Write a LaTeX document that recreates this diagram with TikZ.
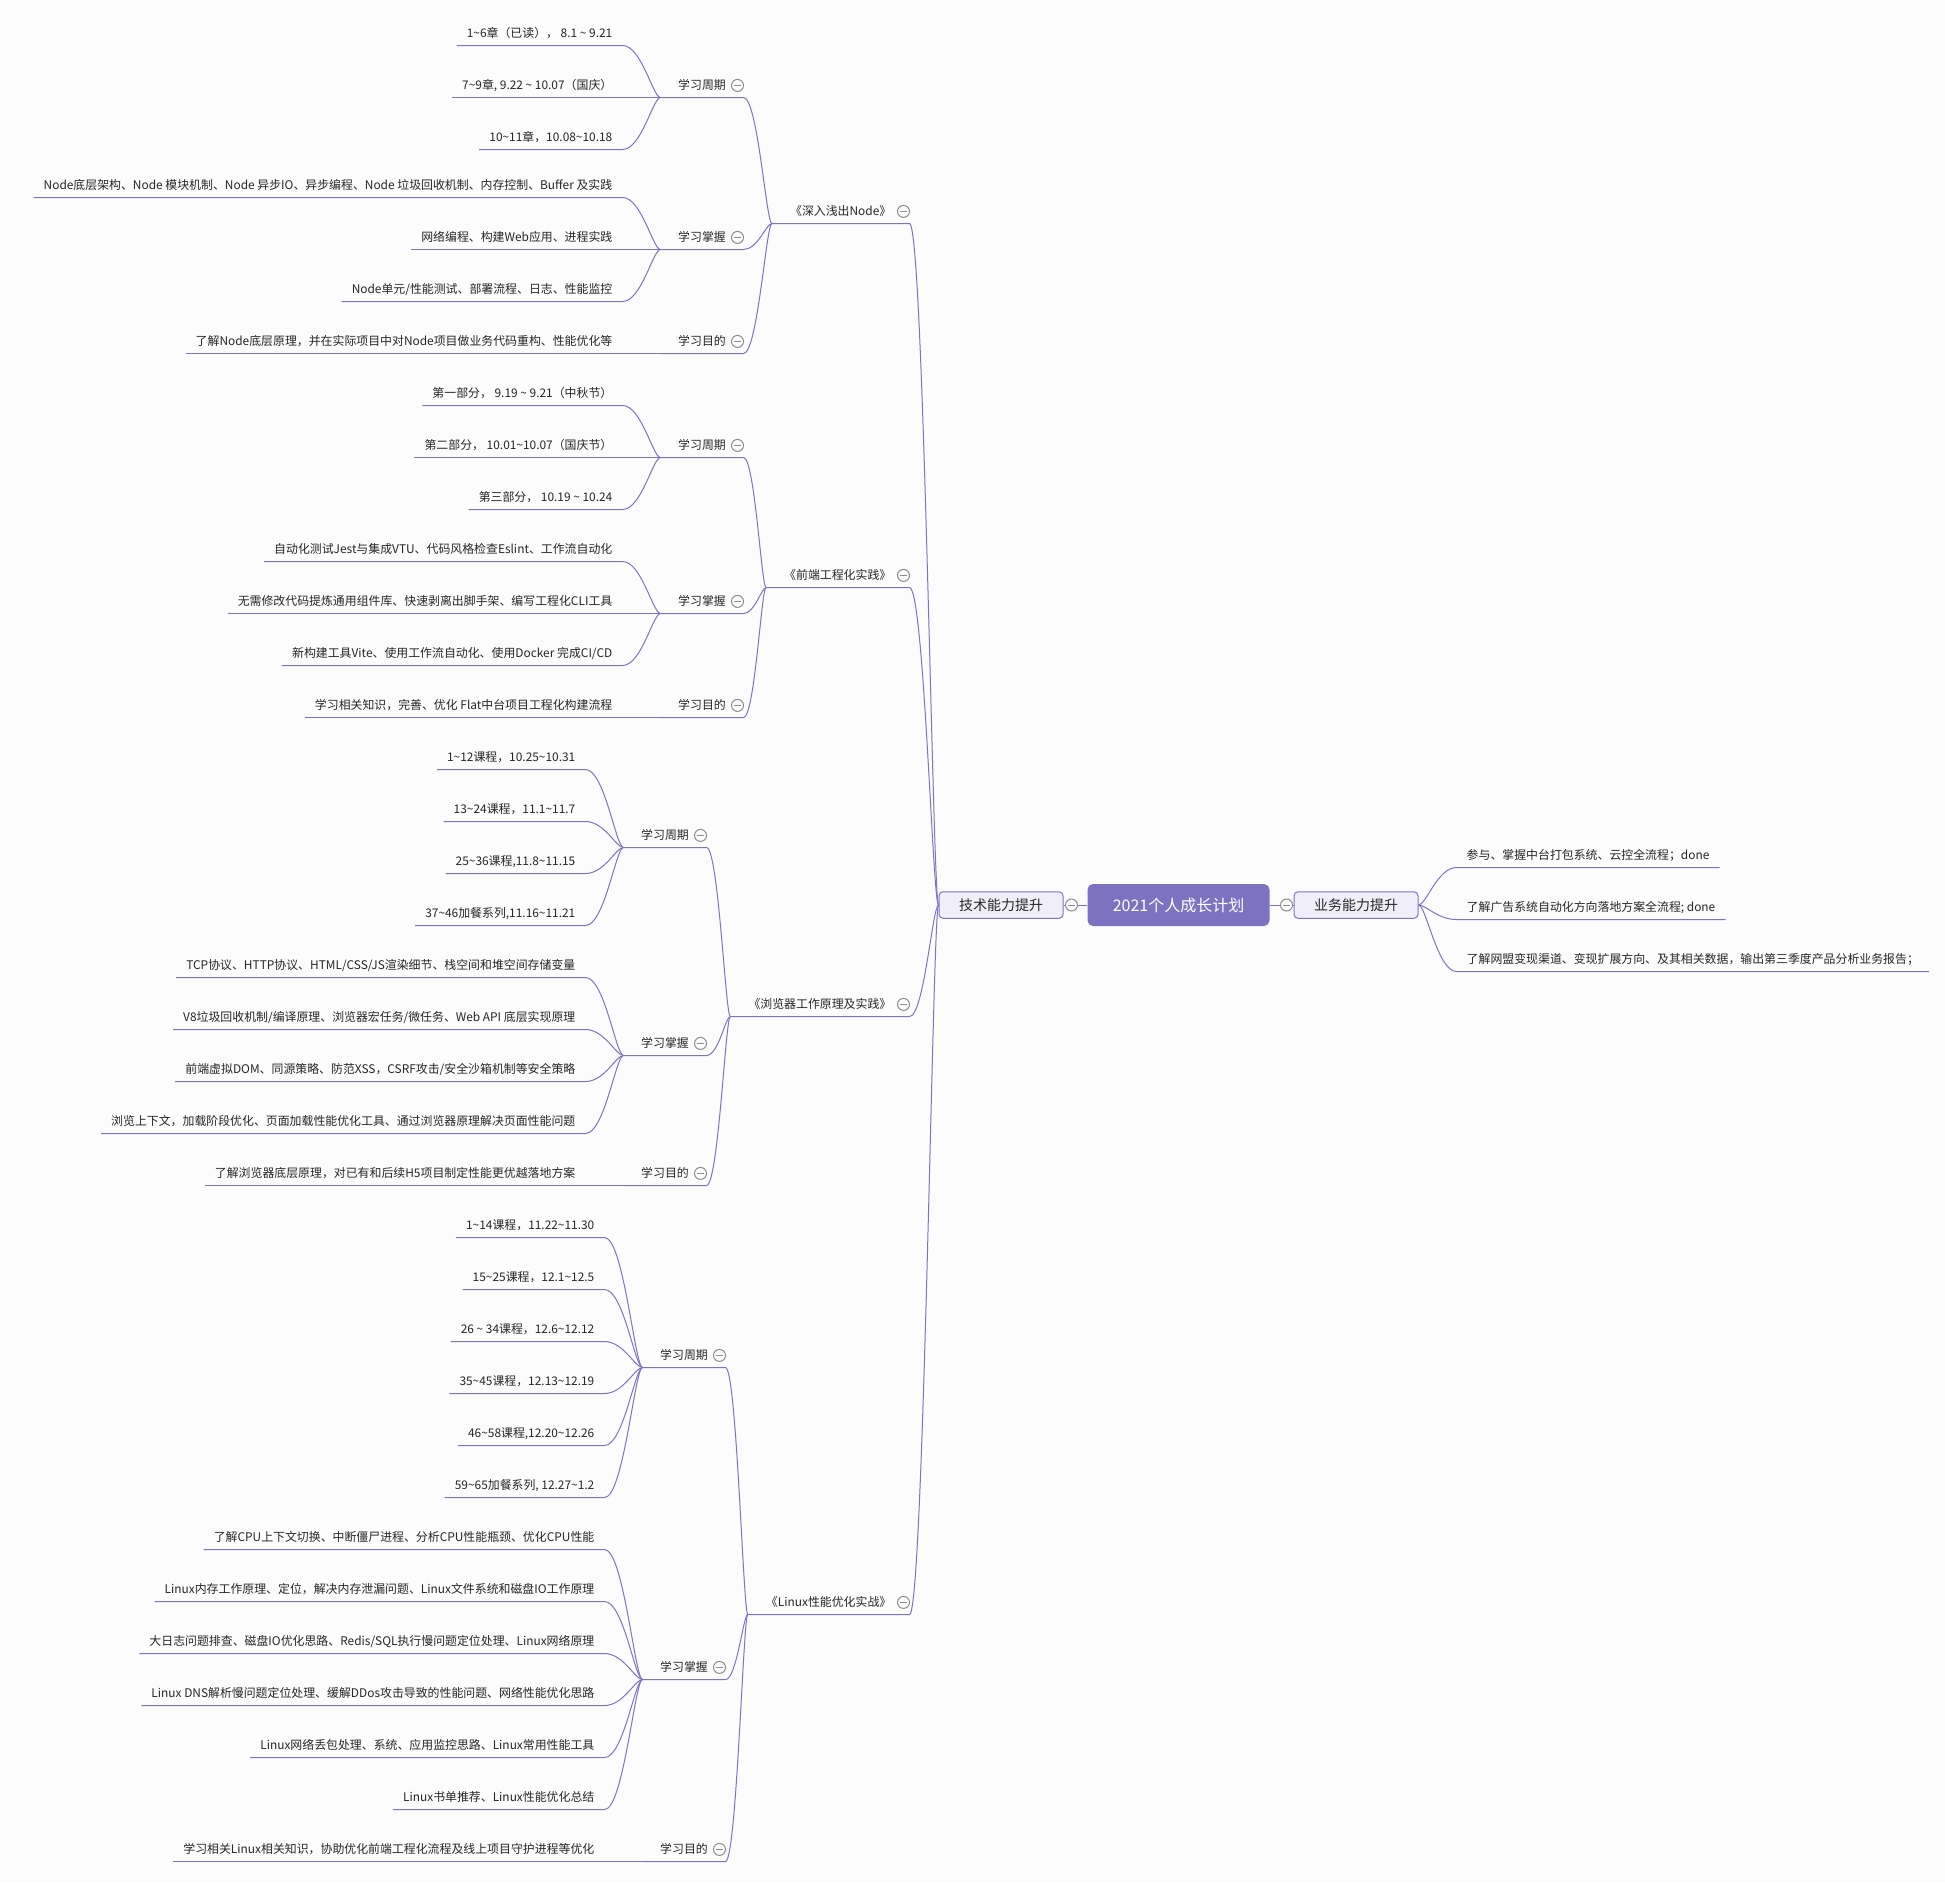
\documentclass[tikz,border=0pt]{standalone}
\usepackage{fontspec}
\setmainfont{Noto Sans CJK SC}
\usetikzlibrary{calc}

\definecolor{twig}{RGB}{124,116,196}
\definecolor{hubfill}{RGB}{123,115,192}
\definecolor{pale}{RGB}{240,239,249}
\definecolor{foldgray}{RGB}{140,140,140}
\definecolor{paper}{RGB}{252,252,252}
\definecolor{ink}{RGB}{38,38,38}

\newcommand\til{\textasciitilde}
\newcommand\leaffont{\fontsize{11.9}{14.5}\selectfont}

\tikzset{
  leaf/.style={font=\leaffont, text=ink, inner xsep=10pt, inner ysep=4.4pt, text height=12pt, text depth=3pt},
  sub/.style={leaf, inner xsep=17.5pt},
  book/.style={leaf, inner xsep=18pt},
  pill/.style={draw=twig, fill=pale, line width=1pt, rounded corners=4pt, text=ink,
    font=\fontsize{14}{17}\selectfont, minimum width=124pt, minimum height=26.5pt, inner sep=0pt},
  hub/.style={fill=hubfill, text=white, rounded corners=5.5pt,
    font=\fontsize{16}{19}\selectfont, minimum width=182pt, minimum height=42pt, inner sep=0pt},
  fold/.style={circle, draw=foldgray, fill=paper, line width=1pt, minimum size=12pt, inner sep=0pt,
    path picture={\draw[foldgray, line width=1pt] ([xshift=2.5pt]path picture bounding box.west) -- ([xshift=-2.5pt]path picture bounding box.east);}},
  limb/.style={draw=twig, line width=1pt,
    to path={.. controls ($(\tikztostart)!.5!(\tikztotarget|-\tikztostart)$) and ($(\tikztotarget)!.2!(\tikztostart|-\tikztotarget)$) .. (\tikztotarget)}}
}

\begin{document}
\begin{tikzpicture}[x=1pt, y=-1pt]
\useasboundingbox (-0.5,-0.5) rectangle (1944.5,1881.5);
\fill[paper] (-0.5,-0.5) rectangle (1944.5,1881.5);

% centre
\node[hub] (hub) at (1178,904.5) {2021个人成长计划};
\node[pill] (tech) at (1000.5,904.5) {技术能力提升};
\node[pill] (biz) at (1355.5,904.5) {业务能力提升};

% 业务能力提升
\node[leaf, anchor=south west] (b1) at (1456,867) {参与、掌握中台打包系统、云控全流程；done};
\node[leaf, anchor=south west] (b2) at (1456,919) {了解广告系统自动化方向落地方案全流程; done};
\node[leaf, anchor=south west] (b3) at (1456,971) {了解网盟变现渠道、变现扩展方向、及其相关数据，输出第三季度产品分析业务报告；};

% books
\node[book, anchor=south east] (n1) at (909,223) {《深入浅出Node》};
\node[book, anchor=south east] (n2) at (909,587) {《前端工程化实践》};
\node[book, anchor=south east] (n3) at (909,1016) {《浏览器工作原理及实践》};
\node[book, anchor=south east] (n4) at (909,1614) {《Linux性能优化实战》};

% 深入浅出Node
\node[sub, anchor=south west] (n1a) at (660,97) {学习周期};
\node[leaf, anchor=south east] (n1a1) at (622,45) {1\til6章（已读）， 8.1 \til{} 9.21};
\node[leaf, anchor=south east] (n1a2) at (622,97) {7\til9章, 9.22 \til{} 10.07（国庆）};
\node[leaf, anchor=south east] (n1a3) at (622,149) {10\til11章，10.08\til10.18};
\node[sub, anchor=south west] (n1b) at (660,249) {学习掌握};
\node[leaf, anchor=south east] (n1b1) at (622,197) {Node底层架构、Node 模块机制、Node 异步IO、异步编程、Node 垃圾回收机制、内存控制、Buffer 及实践};
\node[leaf, anchor=south east] (n1b2) at (622,249) {网络编程、构建Web应用、进程实践};
\node[leaf, anchor=south east] (n1b3) at (622,301) {Node单元/性能测试、部署流程、日志、性能监控};
\node[sub, anchor=south west] (n1c) at (660,353) {学习目的};
\node[leaf, anchor=south east] (n1c1) at (622,353) {了解Node底层原理，并在实际项目中对Node项目做业务代码重构、性能优化等};

% 前端工程化实践
\node[sub, anchor=south west] (n2a) at (660,457) {学习周期};
\node[leaf, anchor=south east] (n2a1) at (622,405) {第一部分， 9.19 \til{} 9.21（中秋节）};
\node[leaf, anchor=south east] (n2a2) at (622,457) {第二部分， 10.01\til10.07（国庆节）};
\node[leaf, anchor=south east] (n2a3) at (622,509) {第三部分， 10.19 \til{} 10.24};
\node[sub, anchor=south west] (n2b) at (660,613) {学习掌握};
\node[leaf, anchor=south east] (n2b1) at (622,561) {自动化测试Jest与集成VTU、代码风格检查Eslint、工作流自动化};
\node[leaf, anchor=south east] (n2b2) at (622,613) {无需修改代码提炼通用组件库、快速剥离出脚手架、编写工程化CLI工具};
\node[leaf, anchor=south east] (n2b3) at (622,665) {新构建工具Vite、使用工作流自动化、使用Docker 完成CI/CD};
\node[sub, anchor=south west] (n2c) at (660,717) {学习目的};
\node[leaf, anchor=south east] (n2c1) at (622,717) {学习相关知识，完善、优化 Flat中台项目工程化构建流程};

% 浏览器工作原理及实践
\node[sub, anchor=south west] (n3a) at (623,847) {学习周期};
\node[leaf, anchor=south east] (n3a1) at (585,769) {1\til12课程，10.25\til10.31};
\node[leaf, anchor=south east] (n3a2) at (585,821) {13\til24课程，11.1\til11.7};
\node[leaf, anchor=south east] (n3a3) at (585,873) {25\til36课程,11.8\til11.15};
\node[leaf, anchor=south east] (n3a4) at (585,925) {37\til46加餐系列,11.16\til11.21};
\node[sub, anchor=south west] (n3b) at (623,1055) {学习掌握};
\node[leaf, anchor=south east] (n3b1) at (585,977) {TCP协议、HTTP协议、HTML/CSS/JS渲染细节、栈空间和堆空间存储变量};
\node[leaf, anchor=south east] (n3b2) at (585,1029) {V8垃圾回收机制/编译原理、浏览器宏任务/微任务、Web API 底层实现原理};
\node[leaf, anchor=south east] (n3b3) at (585,1081) {前端虚拟DOM、同源策略、防范XSS，CSRF攻击/安全沙箱机制等安全策略};
\node[leaf, anchor=south east] (n3b4) at (585,1133) {浏览上下文，加载阶段优化、页面加载性能优化工具、通过浏览器原理解决页面性能问题};
\node[sub, anchor=south west] (n3c) at (623,1185) {学习目的};
\node[leaf, anchor=south east] (n3c1) at (585,1185) {了解浏览器底层原理，对已有和后续H5项目制定性能更优越落地方案};

% Linux性能优化实战
\node[sub, anchor=south west] (n4a) at (642,1367) {学习周期};
\node[leaf, anchor=south east] (n4a1) at (604,1237) {1\til14课程，11.22\til11.30};
\node[leaf, anchor=south east] (n4a2) at (604,1289) {15\til25课程，12.1\til12.5};
\node[leaf, anchor=south east] (n4a3) at (604,1341) {26 \til{} 34课程，12.6\til12.12};
\node[leaf, anchor=south east] (n4a4) at (604,1393) {35\til45课程，12.13\til12.19};
\node[leaf, anchor=south east] (n4a5) at (604,1445) {46\til58课程,12.20\til12.26};
\node[leaf, anchor=south east] (n4a6) at (604,1497) {59\til65加餐系列, 12.27\til1.2};
\node[sub, anchor=south west] (n4b) at (642,1679) {学习掌握};
\node[leaf, anchor=south east] (n4b1) at (604,1549) {了解CPU上下文切换、中断僵尸进程、分析CPU性能瓶颈、优化CPU性能};
\node[leaf, anchor=south east] (n4b2) at (604,1601) {Linux内存工作原理、定位，解决内存泄漏问题、Linux文件系统和磁盘IO工作原理};
\node[leaf, anchor=south east] (n4b3) at (604,1653) {大日志问题排查、磁盘IO优化思路、Redis/SQL执行慢问题定位处理、Linux网络原理};
\node[leaf, anchor=south east] (n4b4) at (604,1705) {Linux DNS解析慢问题定位处理、缓解DDos攻击导致的性能问题、网络性能优化思路};
\node[leaf, anchor=south east] (n4b5) at (604,1757) {Linux网络丢包处理、系统、应用监控思路、Linux常用性能工具};
\node[leaf, anchor=south east] (n4b6) at (604,1809) {Linux书单推荐、Linux性能优化总结};
\node[sub, anchor=south west] (n4c) at (642,1861) {学习目的};
\node[leaf, anchor=south east] (n4c1) at (604,1861) {学习相关Linux相关知识，协助优化前端工程化流程及线上项目守护进程等优化};

% connectors
\draw[limb] (tech.east) -- (hub.west);
\draw[limb] (hub.east) -- (biz.west);
\foreach \i in {1,2,3}
  \draw[limb] (b\i.south east) -- (b\i.south west) to (biz.east);
\foreach \bk in {n1,n2,n3,n4}
  \draw[limb] (\bk.south west) -- (\bk.south east) to (tech.west);
\foreach \m/\bk in {n1a/n1,n1b/n1,n1c/n1,n2a/n2,n2b/n2,n2c/n2,n3a/n3,n3b/n3,n3c/n3,n4a/n4,n4b/n4,n4c/n4}
  \draw[limb] (\m.south west) -- (\m.south east) to (\bk.south west);
\foreach \m/\nk in {n1a/3,n1b/3,n1c/1,n2a/3,n2b/3,n2c/1,n3a/4,n3b/4,n3c/1,n4a/6,n4b/6,n4c/1}
  \foreach \i in {1,...,\nk}
    \draw[limb] (\m\i.south west) -- (\m\i.south east) to (\m.south west);

% fold marks
\foreach \m in {n1,n2,n3,n4,n1a,n1b,n1c,n2a,n2b,n2c,n3a,n3b,n3c,n4a,n4b,n4c}
  \node[fold] at ([xshift=-6pt]\m.east) {};
\node[fold] at ([xshift=8pt]tech.east) {};
\node[fold] at ([xshift=-7pt]biz.west) {};
\end{tikzpicture}
\end{document}
